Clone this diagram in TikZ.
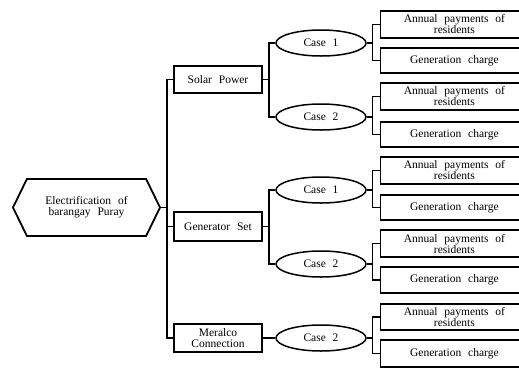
\documentclass[tikz,border=0pt]{standalone}
\usepackage{fontspec}
\setmainfont{Liberation Serif}[WordSpace=2.4]
\usetikzlibrary{shapes.symbols,shapes.geometric}
\begin{document}
\begin{tikzpicture}[x=1pt,y=-1pt,
  txt/.style={font=\fontsize{11.5}{11}\selectfont,align=center},
  box/.style={txt,draw,line width=1.8pt,rectangle,inner sep=0pt},
  mid/.style={box,minimum width=88pt},
  casebox/.style={txt,draw,ellipse,line width=1.5pt,minimum width=90pt,minimum height=26pt,inner sep=0pt},
  leaf/.style={box,minimum width=148pt,anchor=west},
  hexa/.style={txt,draw,line width=1.8pt,signal,signal to=west and east,signal pointer angle=128,minimum width=147pt,minimum height=57pt,inner sep=0pt},
  conn/.style={line width=1.4pt}]
\useasboundingbox (0,0) rectangle (519,368);
\clip (0,0) rectangle (519,368);

\node[hexa] (hex) at (86.5,207.5) {Electrification of\\barangay Puray};
\node[mid,minimum height=27pt] (solar) at (218,79.5) {Solar Power};
\node[mid,minimum height=29pt] (gen) at (218,226.5) {Generator Set};
\node[mid,minimum height=28pt] (mer) at (218,338) {Meralco\\Connection};

\node[casebox] (s1) at (321,43) {Case 1};
\node[casebox] (s2) at (321,117) {Case 2};
\node[casebox] (g1) at (321,190) {Case 1};
\node[casebox] (g2) at (321,264) {Case 2};
\node[casebox] (m2) at (321,338) {Case 2};

\node[leaf,minimum height=27pt] (a1) at (379.5,24.5) {Annual payments of\\residents};
\node[leaf,minimum height=25pt] (b1) at (379.5,60.5) {Generation charge};
\node[leaf,minimum height=27pt] (a2) at (379.5,96.5) {Annual payments of\\residents};
\node[leaf,minimum height=25pt] (b2) at (379.5,134.5) {Generation charge};
\node[leaf,minimum height=27pt] (a3) at (379.5,170.5) {Annual payments of\\residents};
\node[leaf,minimum height=25pt] (b3) at (379.5,207.5) {Generation charge};
\node[leaf,minimum height=27pt] (a4) at (379.5,243.5) {Annual payments of\\residents};
\node[leaf,minimum height=26pt] (b4) at (379.5,280) {Generation charge};
\node[leaf,minimum height=26pt] (a5) at (379.5,317) {Annual payments of\\residents};
\node[leaf,minimum height=27pt] (b5) at (379.5,353.5) {Generation charge};

\coordinate (trunk) at (167,207.5);
\draw[conn] (hex.east) -- (trunk);
\draw[conn] (solar.west) -| (trunk) |- (mer.west);
\draw[conn] (trunk) |- (gen.west);

\draw[conn] (solar.east) -- ++(6,0) |- (s1.west);
\draw[conn] (solar.east) ++(6,0) |- (s2.west);
\draw[conn] (gen.east) -- ++(6,0) |- (g1.west);
\draw[conn] (gen.east) ++(6,0) |- (g2.west);
\draw[conn] (mer.east) -- (m2.west);

\draw[conn] (s1.east) -- ++(6,0) |- (a1.west);
\draw[conn] (s1.east) ++(6,0) |- (b1.west);
\draw[conn] (s2.east) -- ++(6,0) |- (a2.west);
\draw[conn] (s2.east) ++(6,0) |- (b2.west);
\draw[conn] (g1.east) -- ++(6,0) |- (a3.west);
\draw[conn] (g1.east) ++(6,0) |- (b3.west);
\draw[conn] (g2.east) -- ++(6,0) |- (a4.west);
\draw[conn] (g2.east) ++(6,0) |- (b4.west);
\draw[conn] (m2.east) -- ++(6,0) |- (a5.west);
\draw[conn] (m2.east) ++(6,0) |- (b5.west);
\end{tikzpicture}
\end{document}
